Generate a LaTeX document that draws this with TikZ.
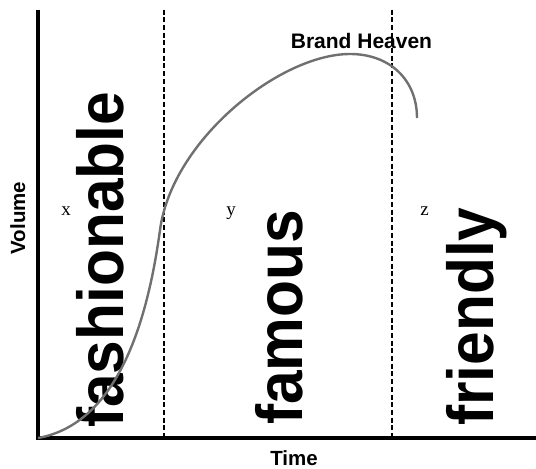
\documentclass[tikz,border=0pt]{standalone}
\usepackage{fontspec}
\setmainfont{Liberation Serif}
\newfontfamily\hel{Liberation Sans}
\definecolor{curvegray}{HTML}{707070}
\begin{document}
\begin{tikzpicture}[x=1pt,y=-1pt,
  axis/.style={line width=4.2pt, line join=miter},
  divider/.style={line width=2.3pt, dash pattern=on 5pt off 2.7pt},
  lifecurve/.style={line width=2.4pt, draw=curvegray},
  bigword/.style={rotate=90, anchor=base west, inner sep=0pt, font=\hel\bfseries\fontsize{65}{65}\selectfont},
  lbl/.style={font=\hel\bfseries\fontsize{20.5}{24}\selectfont, inner sep=0pt, anchor=base},
  zone/.style={font=\fontsize{19}{22}\selectfont, inner sep=0pt, anchor=base}]
\useasboundingbox (0,0) rectangle (536,469);
% axes
\coordinate (top) at (38,9.5);
\coordinate (origin) at (38,438);
\coordinate (right) at (536,438);
\draw[axis] (top) -- (origin) -- (right);
% dividers
\coordinate (d1t) at (163.8,9.5);
\coordinate (d1b) at (163.8,436);
\coordinate (d2t) at (392,9.5);
\coordinate (d2b) at (392,436);
\draw[divider] (d1t) -- (d1b);
\draw[divider] (d2t) -- (d2b);
% big words
\node[bigword] (w1) at (123,428) {\scalebox{0.93}[1]{fashionable}};
\node[bigword] (w2) at (302,425) {\scalebox{0.93}[1]{famous}};
\node[bigword] (w3) at (493,426) {\scalebox{0.93}[1]{friendly}};
% curve
\coordinate (c0) at (38,438);
\coordinate (c1) at (160,230);
\coordinate (c2) at (350,54);
\coordinate (c3) at (417,118);
\draw[lifecurve] (c0) .. controls (110,425) and (145,340) .. (c1)
  .. controls (172,140) and (280,54) .. (c2)
  .. controls (390,54) and (417,80) .. (c3);
% labels
\node[lbl, rotate=90] (vol) at (25,218) {Volume};
\node[lbl] (time) at (294,465.5) {Time};
\node[lbl, font=\hel\bfseries\fontsize{21}{24}\selectfont] (heaven) at (361.5,48) {Brand Heaven};
\node[zone] (zx) at (66,215) {x};
\node[zone] (zy) at (231,215) {y};
\node[zone] (zz) at (424.6,215) {z};
\end{tikzpicture}
\end{document}
